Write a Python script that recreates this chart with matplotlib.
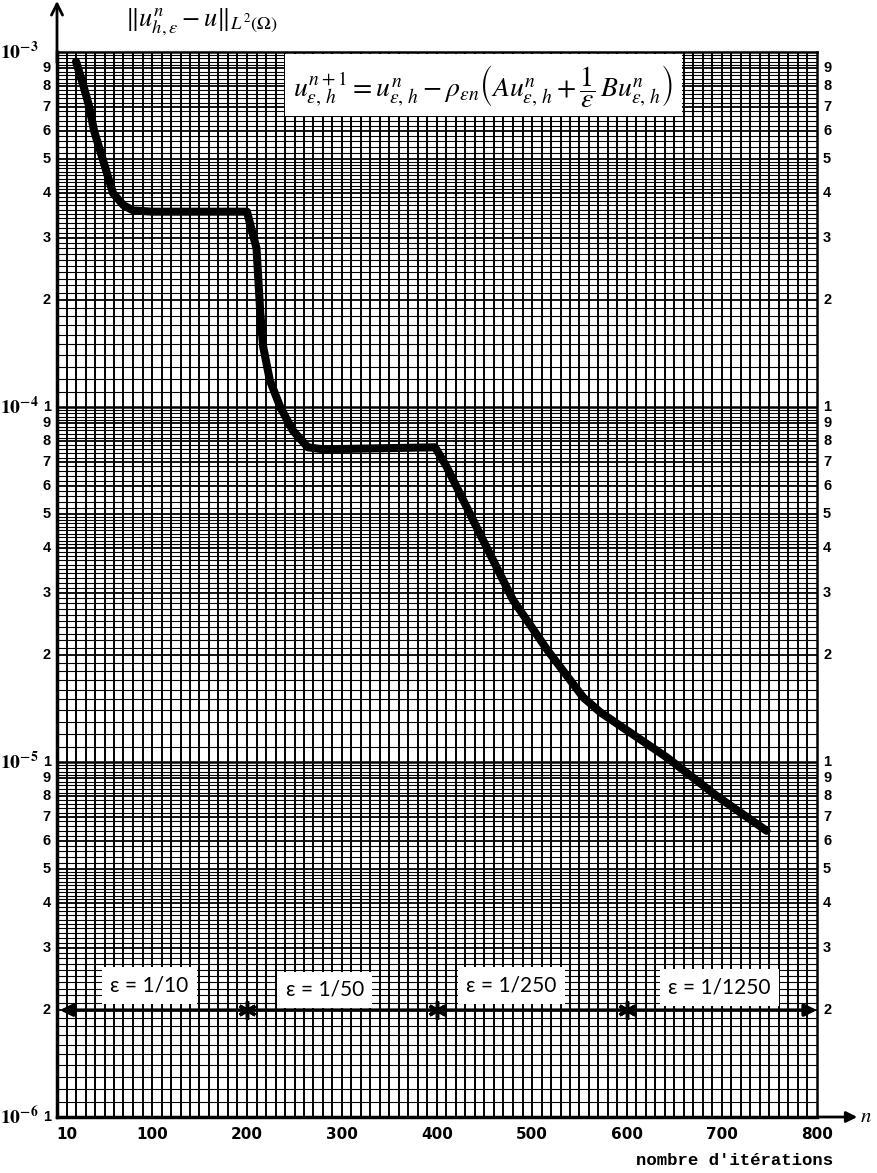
import numpy as np
import matplotlib
matplotlib.use("Agg")
import matplotlib.pyplot as plt
from matplotlib.ticker import FixedLocator, NullFormatter
import matplotlib.transforms as mtransforms

# ---------------- data ----------------
iterations = [20, 28, 34, 39, 48, 59, 70, 80, 100, 200,
              203, 210, 214, 217, 224, 235, 248, 264, 280, 398,
              410, 445, 480, 516, 554, 572, 642, 695, 747]
error = [9.4e-4, 8.0e-4, 7.0e-4, 6.0e-4, 5.0e-4, 4.0e-4, 3.7e-4, 3.58e-4, 3.55e-4, 3.55e-4,
         3.3e-4, 2.8e-4, 1.84e-4, 1.48e-4, 1.19e-4, 1.0e-4, 8.6e-5, 7.7e-5, 7.6e-5, 7.7e-5,
         6.8e-5, 4.4e-5, 2.86e-5, 2.07e-5, 1.52e-5, 1.38e-5, 1.03e-5, 8.0e-6, 6.4e-6]

eps_labels = ["ε = 1/10", "ε = 1/50", "ε = 1/250", "ε = 1/1250"]
eps_label_n = [97, 282, 478, 697]
eps_label_y = [2.35e-6, 2.28e-6, 2.35e-6, 2.32e-6]
eps_breaks = [200, 400, 600]
eps_level = 2e-6
eps_span = [3, 800]

x_ticks = [10, 100, 200, 300, 400, 500, 600, 700, 800]
decades = [1e-6, 1e-5, 1e-4]
digits = [2, 3, 4, 5, 6, 7, 8, 9]

# ---------------- figure ----------------
plt.rcParams['mathtext.fontset'] = 'stix'
fig = plt.figure(figsize=(8.78, 11.73), dpi=100)
L, R, B, T = 57, 817, 1117, 52
W, H = 878, 1173
ax = fig.add_axes([L / W, 1 - B / H, (R - L) / W, (B - T) / H])
ax.set_yscale('log')
ax.set_xlim(0, 800)
ax.set_ylim(1e-6, 1e-3)

# graph-paper grid
fine = []
mid = []
for d in decades:
    for v in np.arange(1.1, 5.0, 0.1):
        if abs(v - round(v)) > 1e-6:
            fine.append(v * d)
    for v in np.arange(5.2, 10.0, 0.2):
        if abs(v - round(v)) > 1e-6:
            fine.append(v * d)
    for k in digits:
        mid.append(k * d)
for y in fine:
    ax.axhline(y, color='black', lw=0.8, zorder=1)
for y in mid:
    ax.axhline(y, color='black', lw=1.3, zorder=1)
for d in decades[1:]:
    ax.axhline(d, color='black', lw=1.8, zorder=1)
for xv in np.arange(10, 800, 10):
    ax.axvline(xv, color='black', lw=1.4, zorder=1)

ax.yaxis.set_major_locator(FixedLocator([]))
ax.yaxis.set_minor_locator(FixedLocator([]))
ax.yaxis.set_major_formatter(NullFormatter())
ax.yaxis.set_minor_formatter(NullFormatter())
ax.set_xticks(x_ticks)
ax.set_xticklabels([str(t) for t in x_ticks], fontsize=11, fontweight='bold',
                   family='DejaVu Sans')
ax.tick_params(axis='x', length=0, pad=7)
ax.xaxis.set_minor_locator(FixedLocator([]))
for s in ['left', 'bottom']:
    ax.spines[s].set_linewidth(2.5)
for s in ['top', 'right']:
    ax.spines[s].set_linewidth(1.8)

# curve
ax.plot(iterations, error, color='black', lw=5.8, solid_capstyle='round',
        solid_joinstyle='round', zorder=5)

# epsilon arrow
ax.annotate('', xy=(eps_span[1], eps_level), xytext=(eps_span[0], eps_level),
            arrowprops=dict(arrowstyle='<|-|>', color='black', lw=2.5,
                            mutation_scale=18, shrinkA=0, shrinkB=0),
            zorder=6, annotation_clip=False)
ax.plot(eps_breaks, [eps_level] * len(eps_breaks), linestyle='none',
        marker=(6, 2, 0), markersize=13, markeredgewidth=2.5, color='black', zorder=7)
for lab, xn, yv in zip(eps_labels, eps_label_n, eps_label_y):
    ax.text(xn, yv, lab, fontsize=15, family='Lato', ha='center', va='center', zorder=8,
            bbox=dict(facecolor='white', edgecolor='none', pad=6))

# formula box
ax.add_patch(plt.Rectangle((0.30, 0.940), 0.522, 0.058, transform=ax.transAxes,
                           facecolor='white', edgecolor='none', zorder=4))
ax.text(0.561, 0.968,
        r'$u^{n+1}_{\varepsilon,\,h} = u^{n}_{\varepsilon,\,h} - \rho_{\varepsilon n}\left(Au^{n}_{\varepsilon,\,h} + \dfrac{1}{\varepsilon}\,Bu^{n}_{\varepsilon,\,h}\right)$',
        transform=ax.transAxes, ha='center', va='center', fontsize=20, zorder=8)

# y labels
trans = mtransforms.blended_transform_factory(ax.transAxes, ax.transData)
lab_font = dict(fontsize=10.5, fontweight='bold', family='Liberation Sans')
for d in decades:
    for k in digits:
        ax.text(-0.008, k * d, str(k), transform=trans, ha='right', va='center', **lab_font)
        ax.text(1.008, k * d, str(k), transform=trans, ha='left', va='center', **lab_font)
for d in decades:
    ax.text(-0.008, d, '1', transform=trans, ha='right', va='center', **lab_font)
    if d > 1e-6:
        ax.text(1.008, d, '1', transform=trans, ha='left', va='center', **lab_font)
for d, e in zip(decades + [1e-3], [-6, -5, -4, -3]):
    ax.text(-0.024, d, r'$\mathbf{10^{%d}}$' % e, transform=trans, ha='right', va='center',
            fontsize=14)

# axis arrows and labels
ax.annotate('', xy=(0, 1.048), xytext=(0, 0.99), xycoords='axes fraction',
            arrowprops=dict(arrowstyle='->', color='black', lw=2, mutation_scale=20,
                            shrinkA=0, shrinkB=0), annotation_clip=False)
ax.annotate('', xy=(1.053, 0), xytext=(1.0, 0), xycoords='axes fraction',
            arrowprops=dict(arrowstyle='-|>', color='black', lw=2, mutation_scale=16,
                            shrinkA=0, shrinkB=0), annotation_clip=False)
ax.text(1.057, 0.001, r'$\mathbf{\mathit{n}}$', transform=ax.transAxes,
        ha='left', va='center', fontsize=15)
ax.text(0.19, 1.028, r'$\|u^{n}_{h,\varepsilon} - u\|_{L^2(\Omega)}$', transform=ax.transAxes,
        ha='center', va='center', fontsize=19)
ax.text(1.021, -0.041, "nombre d'itérations", transform=ax.transAxes, ha='right', va='center',
        fontsize=12.5, fontweight='bold', family='Liberation Mono')

fig.savefig('out.png', dpi=100)
